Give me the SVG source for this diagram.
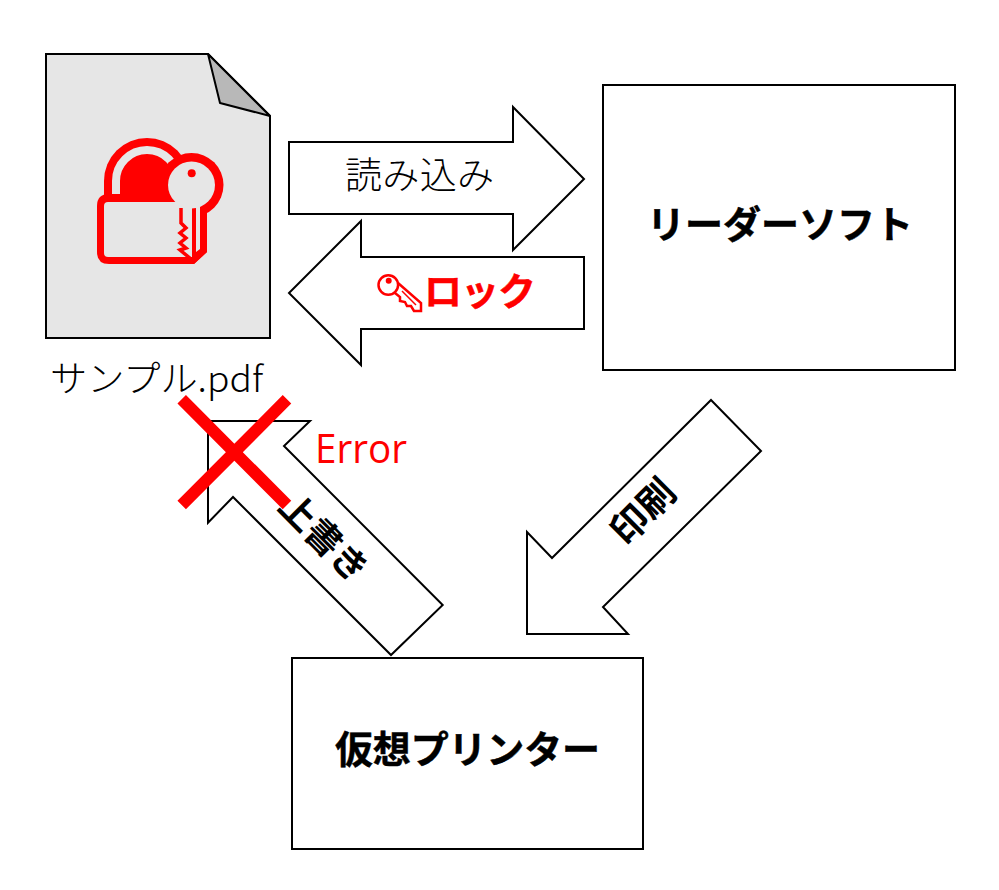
<svg xmlns="http://www.w3.org/2000/svg" width="999" height="890" viewBox="0 0 999 890">
<style>
.s{fill:#fff;stroke:#000;stroke-width:2;stroke-linejoin:miter}
text{font-family:"Noto Sans CJK JP","Noto Sans",sans-serif;fill:#000}
.b{font-weight:700;font-size:38px;stroke:#000;stroke-width:.5}
.r{fill:#f00}
.g{fill:#e6e6e6}
</style>
<rect width="999" height="890" fill="#fff"/>
<g id="document">
<path d="M46,54H208L270,116V338H46Z" fill="#e6e6e6" stroke="#000" stroke-width="2"/>
<path d="M208,54L220,103L270,116Z" fill="#b8b8b8" stroke="#000" stroke-width="2" stroke-linejoin="round"/>
<g id="lock-icon">
<path class="r" d="M104,200V181A43,43 0 0 1 190,181V200Z"/>
<path d="M116,198V181A31,31 0 0 1 178,181" fill="none" stroke="#e6e6e6" stroke-width="8"/>
<path class="r" d="M97,206Q97,194 109,194H207V252L194,264H109Q97,264 97,252Z"/>
<path class="g" d="M104,206Q104,202 108,202H190V257H108Q104,257 104,253Z"/>
<circle class="r" cx="191.500" cy="185" r="32"/>
<path class="r" d="M178,200H207V252L194,264L190,258H180V200Z"/>
<path class="g" d="M180,200H200V249L196,252V205H192V257H180Z"/>
<rect class="g" x="160" y="202" width="20" height="55"/>
<path d="M181,208V223L186,228L180,233L186,238L180,243L186,248L180,250L191,259" fill="none" stroke="#f00" stroke-width="3.500"/>
<circle class="g" cx="191.500" cy="185" r="23.500"/>
<circle class="r" cx="191.700" cy="173.300" r="4"/>
</g>
<text x="50" y="392" font-size="36" textLength="213" lengthAdjust="spacingAndGlyphs" font-weight="300">サンプル.pdf</text>
</g>
<g id="connectors">
<path id="arrow-read" class="s" d="M289,142H513V107L584,179L513,250V214H289Z"/>
<path id="arrow-lock" class="s" d="M584,257H361V221L289,293L361,365V329H584Z"/>
<path id="arrow-print" class="s" d="M711,400L761,451L603,607L628,634H527V532L552,558Z"/>
<path id="arrow-overwrite" class="s" d="M208,421H310L284,446L442.700,605L391,655L233,497L208,522.700Z"/>
</g>
<g id="label-read"><text x="345" y="189" font-size="37" textLength="149" font-weight="300">読み込み</text></g>
<g id="label-lock">
<g fill="none" stroke="#f00" stroke-width="2.500">
<circle cx="388.300" cy="285" r="9.800"/>
<path d="M395,293L400,297V301L405,302L407,306L411,306L414,311L421,311V303L398,283"/>
<path d="M402,291L416,305" stroke-width="1.500"/>
</g>
<circle class="r" cx="388.700" cy="280.700" r="3"/>
<text x="424" y="305" class="b" textLength="112" style="fill:#f00;stroke:#f00">ロック</text>
</g>
<g id="label-print"><text transform="translate(626,547) rotate(-45)" style="font-size:37px;font-weight:700">印刷</text></g>
<g id="label-overwrite"><text transform="translate(276.500,508.500) rotate(45)" style="font-size:36px;font-weight:700">上書き</text></g>
<g id="reader-software">
<rect class="s" x="603" y="85" width="352" height="285"/>
<text x="647" y="238" class="b" textLength="266">リーダーソフト</text>
</g>
<g id="virtual-printer">
<rect class="s" x="292" y="658" width="351" height="191"/>
<text x="335" y="763" class="b" textLength="265">仮想プリンター</text>
</g>
<g id="error">
<path d="M181.700,399.300L287,505M287,399.300L181.700,505" stroke="#f00" stroke-width="12" fill="none"/>
<text x="315" y="463" font-size="40" style="fill:#f00;font-family:'Open Sans','Noto Sans',sans-serif" textLength="92" lengthAdjust="spacingAndGlyphs">Error</text>
</g>
</svg>
